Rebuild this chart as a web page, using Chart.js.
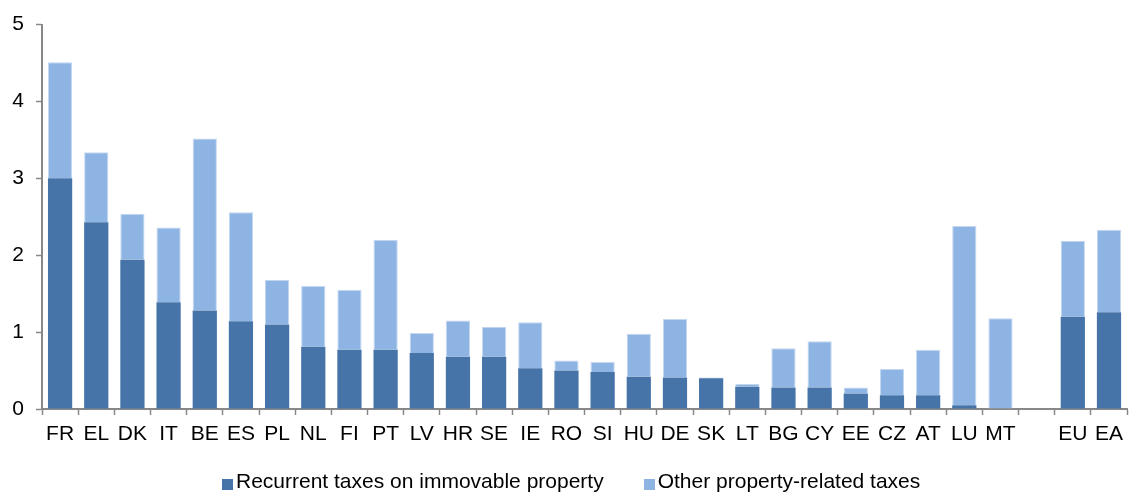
<!DOCTYPE html>
<html>
<head>
<meta charset="utf-8">
<script src="https://cdn.jsdelivr.net/npm/chart.js@4"></script>
<style>
  html, body { margin: 0; padding: 0; background: #ffffff; }
  #wrap { position: relative; width: 1130px; height: 493px; }
  #legend {
    position: absolute; left: 222px; top: 469px;
    display: flex; align-items: center;
    font-family: 'Liberation Sans', Arial, sans-serif; font-size: 21px;
    line-height: 24px; color: #000; white-space: nowrap;
  }
  #legend .item { display: flex; align-items: center; margin-right: 40px; }
  #legend .swatch { width: 11px; height: 11px; margin-right: 3px; margin-top: 6px; }
</style>
</head>
<body>
<div id="wrap">
  <canvas id="c" width="1130" height="493"></canvas>
  <div id="legend"></div>
</div>
<script>
// Property taxes, % of GDP, by country (blank slot separates the aggregates)
const categories = ['FR','EL','DK','IT','BE','ES','PL','NL','FI','PT','LV','HR','SE','IE','RO','SI','HU','DE','SK','LT','BG','CY','EE','CZ','AT','LU','MT','','EU','EA'];

const recurrentTaxes = [3.00,2.43,1.94,1.39,1.28,1.14,1.10,0.81,0.77,0.77,0.73,0.68,0.68,0.53,0.50,0.48,0.42,0.41,0.40,0.29,0.28,0.28,0.20,0.18,0.18,0.05,0.00,null,1.20,1.26];

const otherTaxes = [1.51,0.91,0.60,0.97,2.24,1.42,0.58,0.79,0.78,1.43,0.26,0.47,0.39,0.60,0.13,0.13,0.56,0.76,0.01,0.04,0.51,0.60,0.08,0.34,0.59,2.33,1.18,null,0.99,1.07];

const yTicks = [0,1,2,3,4,5];

const seriesNames = ['Recurrent taxes on immovable property','Other property-related taxes'];
const seriesColors = ['#4674a8','#8eb4e3'];

const FONT = "'Liberation Sans', Arial, sans-serif";
const AXIS = '#888888';

const chart = new Chart(document.getElementById('c'), {
  type: 'bar',
  data: {
    labels: categories,
    datasets: [
      {
        label: seriesNames[0],
        data: recurrentTaxes,
        backgroundColor: seriesColors[0],
        borderWidth: 0
      },
      {
        label: seriesNames[1],
        data: otherTaxes,
        backgroundColor: seriesColors[1],
        borderColor: '#c4d8f1',
        borderWidth: 1
      }
    ]
  },
  options: {
    responsive: false,
    animation: false,
    devicePixelRatio: 1,
    layout: { padding: { top: 23, right: 0, left: 0, bottom: 38 } },
    datasets: { bar: { barPercentage: 0.67, categoryPercentage: 1.0 } },
    plugins: {
      tooltip: { enabled: false },
      legend: { display: false }
    },
    scales: {
      x: {
        stacked: true,
        afterFit: s => { s.height = 46; },
        grid: {
          display: true,
          drawOnChartArea: false,
          drawTicks: true,
          tickLength: 6,
          tickColor: AXIS,
          tickWidth: 1.5,
          offset: true
        },
        border: { display: true, color: AXIS, width: 2 },
        ticks: {
          font: { family: FONT, size: 21 },
          color: '#000000',
          padding: 7,
          autoSkip: false,
          maxRotation: 0
        }
      },
      y: {
        stacked: true,
        min: 0,
        max: 5,
        afterBuildTicks: s => { s.ticks = yTicks.map(v => ({ value: v })); },
        afterFit: s => { s.width = 42; },
        grid: {
          display: true,
          drawOnChartArea: false,
          drawTicks: true,
          tickLength: 6,
          tickColor: AXIS,
          tickWidth: 1.5
        },
        border: { display: true, color: AXIS, width: 2 },
        ticks: {
          font: { family: FONT, size: 21 },
          color: '#000000',
          padding: 12
        }
      }
    }
  }
});

// Legend built from the chart's own datasets
const legendEl = document.getElementById('legend');
chart.data.datasets.forEach(ds => {
  const item = document.createElement('div');
  item.className = 'item';
  const sw = document.createElement('span');
  sw.className = 'swatch';
  sw.style.background = ds.backgroundColor;
  const txt = document.createElement('span');
  txt.textContent = ds.label;
  item.appendChild(sw);
  item.appendChild(txt);
  legendEl.appendChild(item);
});
</script>
</body>
</html>
